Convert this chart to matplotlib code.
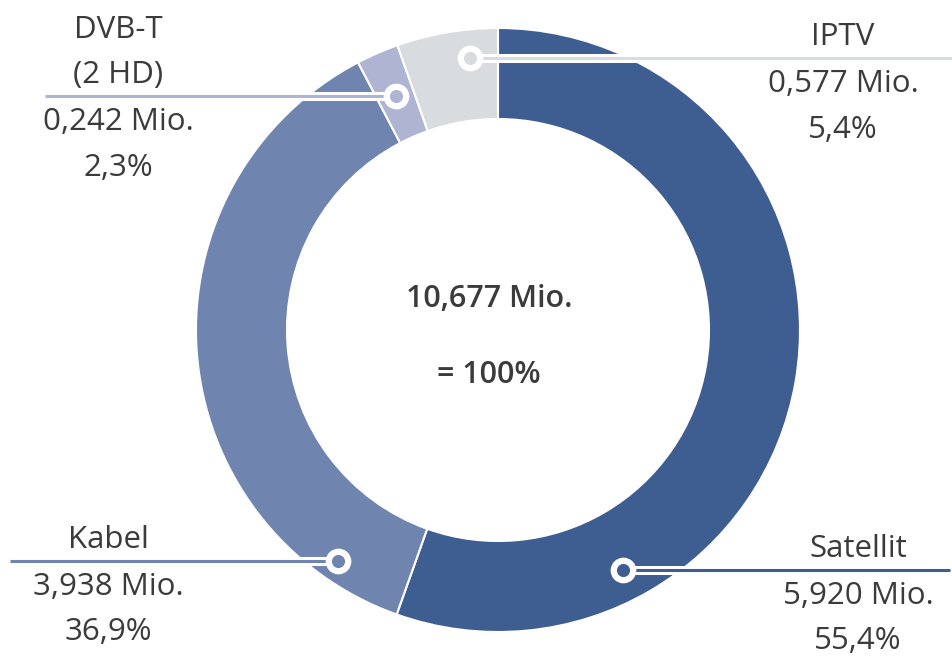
import numpy as np
import matplotlib.pyplot as plt

# data
labels   = ["Satellit", "Kabel", "DVB-T\n(2 HD)", "IPTV"]
mio      = [5.920, 3.938, 0.242, 0.577]
percent  = [55.4, 36.9, 2.3, 5.4]
total    = "10,677 Mio."
colors   = ["#3E5D91", "#6F84AE", "#AEB4D2", "#D9DCDF"]

# layout of the labels (pixel space, y measured from the bottom)
W, H      = 953, 657
CX, CY    = 498, H - 330
R_OUT     = 302
R_IN      = 211
mark_frac = [0.765, 0.115, 0.5, 0.7]     # position inside the wedge
mark_rad  = [0.895, 0.93, 0.845, 0.905]  # fraction of outer radius
line_end  = [950, 10, 45, 953]
text_x    = [858, 108, 118, 843]

txt_col = "#3B3B3B"
font    = "Open Sans"
fs      = 22.5

fig = plt.figure(figsize=(W/100, H/100), dpi=100)
ax  = fig.add_axes([0, 0, 1, 1])

ax.pie(mio, colors=colors, startangle=90, counterclock=False,
       center=(CX, CY), radius=R_OUT,
       wedgeprops=dict(width=R_OUT - R_IN, edgecolor="white", linewidth=1.5))

ax.set_xlim(0, W)
ax.set_ylim(0, H)
ax.set_aspect("equal")
ax.axis("off")

frac = np.array(percent) / np.sum(percent)
start = np.concatenate(([0], np.cumsum(frac)[:-1]))

for i in range(len(labels)):
    a  = 2*np.pi*(start[i] + mark_frac[i]*frac[i])
    mx = CX + mark_rad[i]*R_OUT*np.sin(a)
    my = CY + mark_rad[i]*R_OUT*np.cos(a)
    ax.plot([mx, line_end[i]], [my, my], color="white", lw=6.5,
            solid_capstyle="butt", zorder=3)
    ax.plot([mx, line_end[i]], [my, my], color=colors[i], lw=2.2,
            solid_capstyle="butt", zorder=4)
    ax.plot(mx, my, "o", ms=14, mfc=colors[i], mec="white", mew=4.5, zorder=5)

    top = labels[i].split("\n")
    vals = ["%s Mio." % ("%.3f" % mio[i]).replace(".", ","),
            ("%.1f%%" % percent[i]).replace(".", ",")]
    for k, s in enumerate(top[::-1]):
        ax.text(text_x[i], my + 13 + 45.5*k, s, ha="center", va="baseline",
                fontsize=fs, color=txt_col, family=font)
    for k, s in enumerate(vals):
        ax.text(text_x[i], my - 34 - 45.5*k, s, ha="center", va="baseline",
                fontsize=fs, color=txt_col, family=font)

ax.text(489, H - 299, total, ha="center", va="center", fontsize=22,
        fontweight="semibold", color=txt_col, family=font)
ax.text(489, H - 375, "= 100%", ha="center", va="center", fontsize=22,
        fontweight="semibold", color=txt_col, family=font)

fig.savefig("out.png", dpi=100)
